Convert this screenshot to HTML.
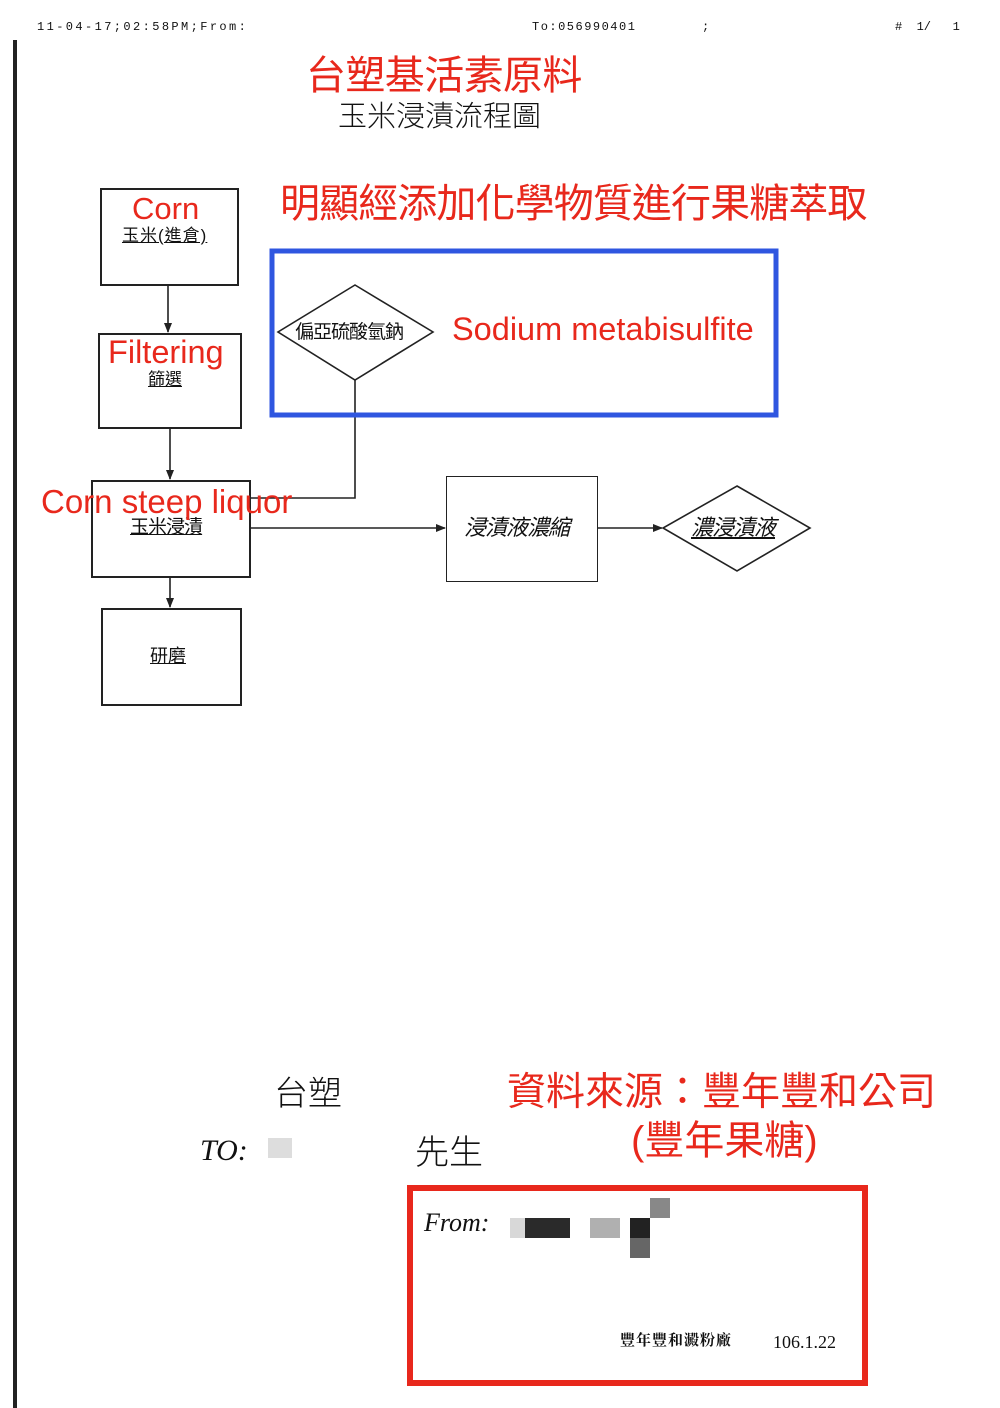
<!DOCTYPE html>
<html><head><meta charset="utf-8"><style>
body{margin:0;background:#fff;}
#p{position:relative;width:1000px;height:1408px;overflow:hidden;background:#fff;font-family:"Liberation Sans","Noto Sans CJK TC",sans-serif;}
.t{position:absolute;white-space:nowrap;line-height:1;}
.r{color:#e8281c;}
.k{color:#111;}
.box{position:absolute;border:2px solid #222;box-sizing:border-box;}
</style></head><body><div id="p">
<div style="position:absolute;left:13px;top:40px;width:4px;height:1368px;background:#222"></div>
<div class="t k" style="left:37px;top:21px;font-family:'Liberation Mono',monospace;font-size:12px;letter-spacing:2.4px">11-04-17;02:58PM;From:</div>
<div class="t k" style="left:532px;top:21px;font-family:'Liberation Mono',monospace;font-size:12px;letter-spacing:1.5px">To:056990401</div>
<div class="t k" style="left:702px;top:21px;font-family:'Liberation Mono',monospace;font-size:12px">;</div>
<div class="t k" style="left:895px;top:21px;font-family:'Liberation Mono',monospace;font-size:12px">#&nbsp;&nbsp;1/&nbsp;&nbsp;&nbsp;1</div>

<div class="t r" style="left:306px;top:56px;font-size:40px;letter-spacing:-0.6px">台塑基活素原料</div>
<div class="t k" style="left:338px;top:103px;font-size:29px;letter-spacing:0px;font-weight:300">玉米浸漬流程圖</div>
<div class="t r" style="left:280px;top:184px;font-size:40px;letter-spacing:-0.9px">明顯經添加化學物質進行果糖萃取</div>

<div class="box" style="left:100px;top:188px;width:139px;height:98px"></div>
<div class="t r" style="left:132px;top:193px;font-size:31px">Corn</div>
<div class="t k" style="left:122px;top:227px;font-size:17px;letter-spacing:1px;text-decoration:underline">玉米(進倉)</div>

<div class="box" style="left:98px;top:333px;width:144px;height:96px"></div>
<div class="t r" style="left:108px;top:336px;font-size:32.5px">Filtering</div>
<div class="t k" style="left:148px;top:371px;font-size:17px;text-decoration:underline">篩選</div>

<div class="box" style="left:91px;top:480px;width:160px;height:98px"></div>
<div class="t k" style="left:130px;top:518px;font-size:19px;letter-spacing:-1px;text-decoration:underline">玉米浸漬</div>

<div class="box" style="left:101px;top:608px;width:141px;height:98px"></div>
<div class="t k" style="left:150px;top:647px;font-size:18px;text-decoration:underline">研磨</div>

<div class="box" style="left:446px;top:476px;width:152px;height:106px;border-width:1.5px"></div>
<div class="t k" style="left:464px;top:517px;font-size:22px;letter-spacing:-1px;font-style:italic">浸漬液濃縮</div>

<svg width="1000" height="1408" style="position:absolute;left:0;top:0">
<defs><marker id="a" markerWidth="10" markerHeight="8" refX="9" refY="4" orient="auto" markerUnits="userSpaceOnUse"><path d="M0,0 L10,4 L0,8z" fill="#222"/></marker></defs>
<g stroke="#222" stroke-width="1.6" fill="none">
<line x1="168" y1="286" x2="168" y2="332" marker-end="url(#a)"/>
<line x1="170" y1="429" x2="170" y2="479" marker-end="url(#a)"/>
<line x1="170" y1="578" x2="170" y2="607" marker-end="url(#a)"/>
<polyline points="355,380 355,498 251,498"/>
<line x1="251" y1="528" x2="445" y2="528" marker-end="url(#a)"/>
<line x1="598" y1="528" x2="662" y2="528" marker-end="url(#a)"/>
<polygon points="355,285 433,332 355,380 278,332" fill="#fff"/>
<polygon points="737,486 810,528 737,571 663,528" fill="#fff"/>
</g>
<rect x="272" y="251" width="504" height="164" fill="none" stroke="#2f56e0" stroke-width="5"/>
<rect x="410" y="1188" width="455" height="195" fill="none" stroke="#e8281c" stroke-width="6"/>
</svg>
<div class="t k" style="left:295px;top:323px;font-size:19px;letter-spacing:-1px">偏亞硫酸氫鈉</div>
<div class="t k" style="left:691px;top:517px;font-size:22px;letter-spacing:-1px;font-style:italic;text-decoration:underline">濃浸漬液</div>
<div class="t r" style="left:452px;top:313px;font-size:32.5px">Sodium metabisulfite</div>
<div class="t r" style="left:41px;top:485px;font-size:33px">Corn steep liquor</div>

<div class="t k" style="left:274px;top:1077px;font-size:34px;font-weight:300">台塑</div>
<div class="t k" style="left:200px;top:1136px;font-size:30px;font-style:italic;font-family:'Liberation Serif',serif">TO:</div>
<div style="position:absolute;left:268px;top:1138px;width:24px;height:20px;background:#ddd"></div>
<div class="t k" style="left:415px;top:1136px;font-size:34px;font-weight:300">先生</div>
<div class="t r" style="left:507px;top:1073px;font-size:39px;letter-spacing:0px">資料來源：豐年豐和公司</div>
<div class="t r" style="left:631px;top:1121px;font-size:40px">(豐年果糖)</div>

<div class="t k" style="left:424px;top:1210px;font-size:26px;font-style:italic;font-family:'Liberation Serif',serif">From:</div>
<div style="position:absolute;left:510px;top:1218px;width:15px;height:20px;background:#d8d8d8"></div>
<div style="position:absolute;left:525px;top:1218px;width:45px;height:20px;background:#2a2a2a"></div>
<div style="position:absolute;left:590px;top:1218px;width:30px;height:20px;background:#b0b0b0"></div>
<div style="position:absolute;left:630px;top:1218px;width:20px;height:20px;background:#222"></div>
<div style="position:absolute;left:630px;top:1238px;width:20px;height:20px;background:#666"></div>
<div style="position:absolute;left:650px;top:1198px;width:20px;height:20px;background:#888"></div>
<div class="t k" style="left:620px;top:1334px;font-size:15px;letter-spacing:1px;font-weight:bold;font-family:'Liberation Serif','Noto Serif CJK SC',serif">豐年豐和澱粉廠</div>
<div class="t k" style="left:773px;top:1333px;font-size:18px;font-family:'Liberation Serif',serif">106.1.22</div>
</div></body></html>
